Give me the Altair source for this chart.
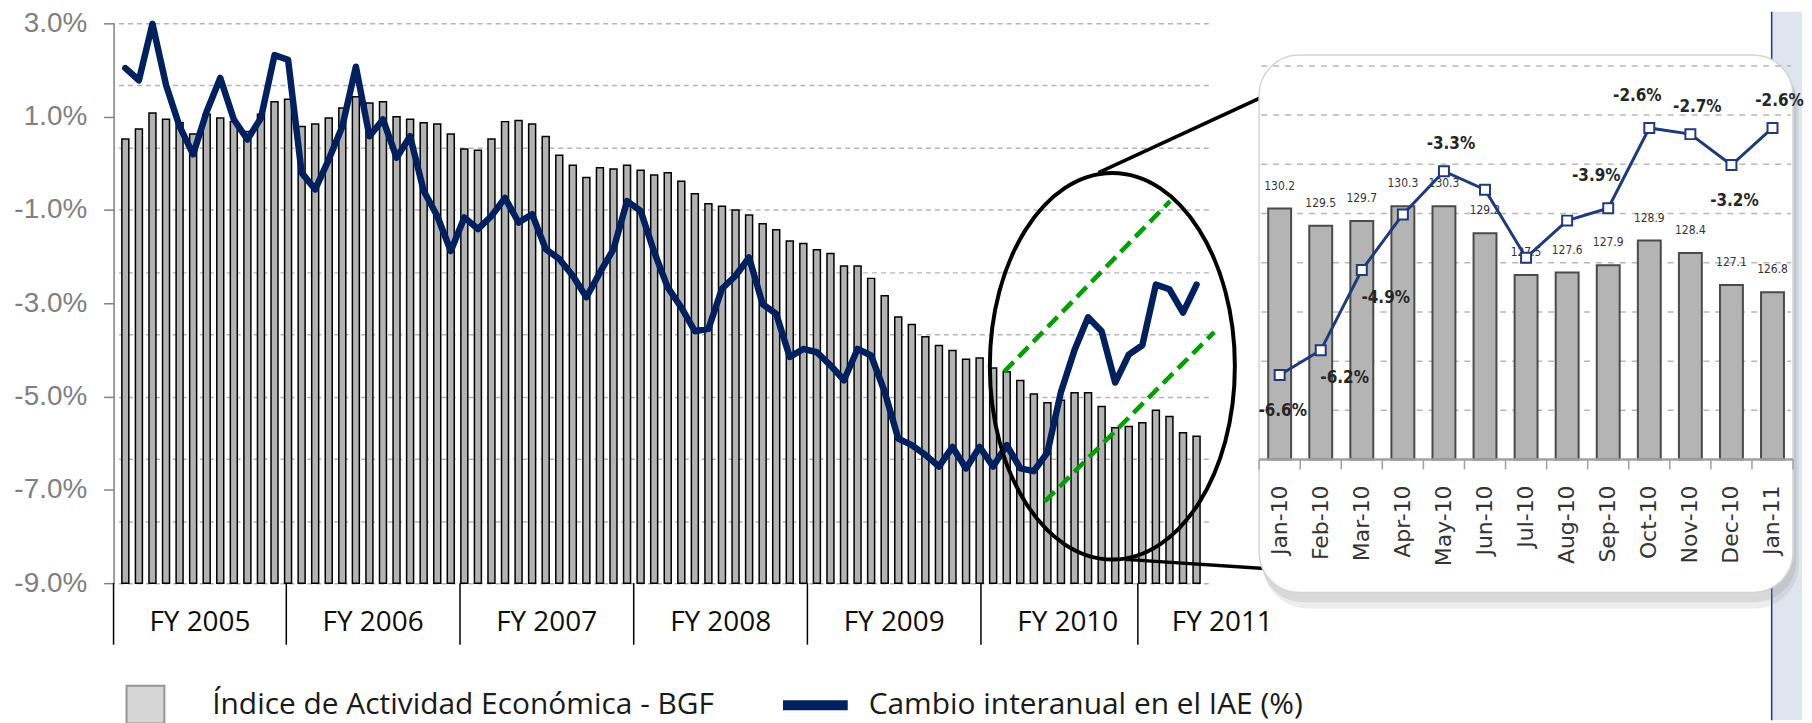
import altair as alt
import pandas as pd

# ------------------------------------------------------------------ data
# Monthly series, Jun-2004 ... Jan-2011 (80 months)
iae_index = [
    150.7, 151.5, 152.8, 152.3, 152.0, 151.1, 152.7, 152.4, 152.1, 151.3,
    152.7, 153.7, 153.9, 151.7, 151.9, 152.4, 153.2, 154.1, 153.6, 153.7,
    152.5, 152.3, 152.0, 151.9, 151.1, 149.9, 149.8, 150.7, 152.1, 152.2,
    151.9, 150.9, 149.4, 148.6, 147.6, 148.4, 148.3, 148.6, 148.2, 147.8,
    148.0, 147.3, 146.3, 145.5, 145.3, 145.0, 144.6, 143.9, 143.4, 142.5,
    142.3, 141.8, 141.5, 140.5, 140.5, 139.5, 138.1, 136.4, 135.8, 134.8,
    134.1, 133.7, 133.0, 133.1, 132.3, 132.0, 131.3, 130.2, 129.5, 129.7,
    130.3, 130.3, 129.2, 127.5, 127.6, 127.9, 128.9, 128.4, 127.1, 126.8,
]
iae_yoy = [
    2.04, 1.78, 2.99, 1.68, 0.79, 0.19, 1.11, 1.83, 0.94, 0.51,
    0.97, 2.32, 2.22, -0.20, -0.56, 0.08, 0.79, 2.07, 0.58, 0.94,
    0.12, 0.58, -0.59, -1.13, -1.88, -1.16, -1.41, -1.13, -0.74, -1.27,
    -1.09, -1.84, -2.05, -2.41, -2.87, -2.34, -1.84, -0.81, -1.02, -1.90,
    -2.66, -3.09, -3.60, -3.55, -2.69, -2.41, -2.02, -3.02, -3.23, -4.15,
    -3.98, -4.05, -4.33, -4.65, -3.98, -4.12, -4.90, -5.90, -6.04, -6.25,
    -6.50, -6.08, -6.54, -6.08, -6.50, -6.04, -6.54, -6.6, -6.2, -4.9,
    -4.0, -3.3, -3.6, -4.7, -4.1, -3.9, -2.6, -2.7, -3.2, -2.6,
]
months = list(range(len(iae_index)))

y_ticks = [-9, -7, -5, -3, -1, 1, 3]
index_grid = [115, 120, 125, 130, 135, 140, 145, 150, 155, 160]

fy_names = ["FY 2005", "FY 2006", "FY 2007", "FY 2008", "FY 2009", "FY 2010", "FY 2011"]
fy_edges = [-0.87, 11.87, 24.68, 37.49, 50.30, 63.1, 74.67]
fy_centers = [5.5, 18.27, 31.07, 43.9, 56.7, 69.5, 80.9]

# annotations (in data units: month index, % change)
ellipse_center = [72.79, -4.35]
green_seg = ["a", "a", "b", "b"]
green_m = [64.8, 77.05, 67.8, 80.3]
green_v = [-4.47, -0.81, -7.25, -3.62]
conn_seg = ["u", "u", "l", "l"]
conn_m = [71.77, 84.8, 73.73, 84.65]
conn_v = [-0.20, 1.55, -8.49, -8.70]

# inset (Jan-10 .. Jan-11)
inset_months = ["Jan-10", "Feb-10", "Mar-10", "Apr-10", "May-10", "Jun-10", "Jul-10",
                "Aug-10", "Sep-10", "Oct-10", "Nov-10", "Dec-10", "Jan-11"]
inset_index = [130.2, 129.5, 129.7, 130.3, 130.3, 129.2, 127.5, 127.6, 127.9, 128.9, 128.4, 127.1, 126.8]
inset_yoy = [-6.6, -6.2, -4.9, -4.0, -3.3, -3.6, -4.7, -4.1, -3.9, -2.6, -2.7, -3.2, -2.6]
pct_above_left = ["Sep-10", "Oct-10"]
pct_above_right = ["May-10", "Nov-10", "Jan-11"]
pct_right = ["Feb-10", "Mar-10"]
pct_below = ["Jan-10", "Dec-10"]
inset_grid = [122, 124, 126, 128, 130, 132, 134, 136]

S_BAR = "Índice de Actividad Económica - BGF"
S_LINE = "Cambio interanual en el IAE (%)"

# ------------------------------------------------------------------ main chart
main_df = pd.DataFrame({"m": months, "iae": iae_index, "yoy": iae_yoy})
main_df["sb"] = S_BAR
main_df["sl"] = S_LINE

XS = alt.Scale(domain=[-0.5, 79.5], nice=False, zero=False)
YP = alt.Scale(domain=[-9, 3], nice=False, zero=False)
YI = alt.Scale(domain=[115, 160], nice=False, zero=False)

AXP = alt.Axis(
    orient="left", values=y_ticks,
    labelExpr="(datum.value < 0 ? '-' : '') + format(abs(datum.value), '.1f') + '%'", grid=False,
    domainColor="#808080", domainWidth=1.5, tickColor="#808080", tickWidth=1.5, tickSize=10,
    labelPadding=17, labelFont="Liberation Sans", labelFontSize=28, labelColor="#808080",
    title=None)

bars = alt.Chart(main_df).mark_bar(size=7, stroke="#000000", strokeWidth=1.5, orient="vertical").encode(
    x=alt.X("m:Q", scale=XS, axis=None),
    y=alt.Y("iae:Q", scale=YI, axis=alt.Axis(
        orient="right", values=index_grid, grid=True, gridDash=[5, 4], gridColor="#b5b5b5",
        gridWidth=1.5, labels=False, ticks=False, domain=False, title=None, minExtent=0, maxExtent=0)),
    y2=alt.datum(115),
    fill=alt.Fill("sb:N", scale=alt.Scale(domain=[S_BAR], range=["#b3b3b3"]), legend=alt.Legend(
        title=None, orient="none", legendX=12, legendY=664, symbolType="square", symbolSize=1444,
        symbolOpacity=0.55, symbolStrokeColor="#404040", symbolStrokeWidth=2,
        labelFont="Open Sans", labelFontSize=30, labelColor="#1a1a1a", labelOffset=47, labelLimit=1200)),
)

line = alt.Chart(main_df).mark_line(strokeWidth=6.5, strokeJoin="round", strokeCap="round").encode(
    x=alt.X("m:Q", scale=XS, axis=None),
    y=alt.Y("yoy:Q", scale=YP, axis=AXP),
    stroke=alt.Stroke("sl:N", scale=alt.Scale(domain=[S_LINE], range=["#002060"]), legend=alt.Legend(
        title=None, orient="none", legendX=667, legendY=647, symbolType="stroke", symbolSize=4225,
        symbolStrokeWidth=10, labelFont="Open Sans", labelFontSize=30, labelColor="#1a1a1a",
        labelOffset=16, labelLimit=1200)),
)

fy_edge_df = pd.DataFrame({"e": fy_edges})
fy_rules = alt.Chart(fy_edge_df).mark_rule(stroke="#000000", strokeWidth=1.5).encode(
    x=alt.X("e:Q", scale=XS, axis=None),
    y=alt.YDatum(-9, scale=YP, axis=AXP),
    y2=alt.datum(-10.32),
)
fy_lab_df = pd.DataFrame({"c": fy_centers, "name": fy_names})
fy_text = alt.Chart(fy_lab_df).mark_text(font="Open Sans", fontSize=28, color="#0d0d0d", baseline="middle").encode(
    x=alt.X("c:Q", scale=XS, axis=None),
    y=alt.YDatum(-9.85, scale=YP, axis=AXP),
    text="name:N",
)

ELL_PATH = ("M-0.634,0C-0.634,-0.552,-0.350,-1,0,-1C0.350,-1,0.634,-0.552,0.634,0"
            "C0.634,0.552,0.350,1,0,1C-0.350,1,-0.634,0.552,-0.634,0Z")
ell_df = pd.DataFrame({"m": [ellipse_center[0]], "v": [ellipse_center[1]]})
ellipse = alt.Chart(ell_df).mark_point(shape=ELL_PATH, size=150544, filled=False, stroke="#000000",
                                       strokeWidth=4, opacity=1).encode(
    x=alt.X("m:Q", scale=XS, axis=None),
    y=alt.Y("v:Q", scale=YP, axis=AXP),
)

green_df = pd.DataFrame({"seg": green_seg, "m": green_m, "v": green_v})
greens = alt.Chart(green_df).mark_line(stroke="#00a000", strokeWidth=4.5, strokeDash=[14, 7]).encode(
    x=alt.X("m:Q", scale=XS, axis=None),
    y=alt.Y("v:Q", scale=YP, axis=AXP),
    detail="seg:N",
)

conn_df = pd.DataFrame({"seg": conn_seg, "m": conn_m, "v": conn_v})
connectors = alt.Chart(conn_df).mark_line(stroke="#000000", strokeWidth=3.5).encode(
    x=alt.X("m:Q", scale=XS, axis=None),
    y=alt.Y("v:Q", scale=YP, axis=AXP),
    detail="seg:N",
)

main = alt.layer(
    bars,
    alt.layer(line, fy_rules, fy_text, ellipse, greens, connectors),
).resolve_scale(y="independent").properties(width=1099, height=562)

# ------------------------------------------------------------------ inset chart
in_df = pd.DataFrame({"k": list(range(len(inset_months))), "mon": inset_months,
                      "iv": inset_index, "iy": inset_yoy})


def grp_of(m):
    if m in pct_above_left:
        return "aboveL"
    if m in pct_above_right:
        return "aboveR"
    if m in pct_right:
        return "right"
    if m in pct_below:
        return "below"
    return "none"


in_df["grp"] = [grp_of(m) for m in inset_months]

IX = alt.Scale(domain=[-0.5, 12.5], nice=False, zero=False)
IYB = alt.Scale(domain=[114.45, 137.73], nice=False, zero=False)
IYL = alt.Scale(domain=[-10.18, -0.906], nice=False, zero=False)
NAVY2 = "#1f3a7a"

base_one = pd.DataFrame({"o": [0]})


def panel_rect(x1, x2, y1, y2, **kw):
    return alt.Chart(base_one).mark_rect(**kw).encode(
        x=alt.XDatum(x1, scale=IX, axis=None), x2=alt.datum(x2),
        y=alt.YDatum(y1, scale=IYB, axis=None), y2=alt.datum(y2),
    )


# slide side strip behind the inset
strip = panel_rect(11.98, 12.72, 138.2, 109.4, fill="#dfe5ee")
strip_edge = alt.Chart(base_one).mark_rule(stroke="#1f3a7a", strokeWidth=1.5).encode(
    x=alt.XDatum(11.98, scale=IX, axis=None),
    y=alt.YDatum(138.2, scale=IYB, axis=None), y2=alt.datum(109.4),
)
shadow1 = panel_rect(-0.40, 12.64, 136.1, 113.95, fill="#808080", opacity=0.14, cornerRadius=44)
shadow2 = panel_rect(-0.45, 12.58, 136.25, 114.2, fill="#808080", opacity=0.18, cornerRadius=42)
panel = panel_rect(-0.5, 12.5, 136.44, 114.6, fill="#ffffff", stroke="#d4d4d4", strokeWidth=1.5, cornerRadius=40)

grid_df = pd.DataFrame({"g": inset_grid})
in_grid = alt.Chart(grid_df).mark_rule(stroke="#b8b8b8", strokeWidth=1.5, strokeDash=[6, 6]).encode(
    x=alt.XDatum(-0.45, scale=IX, axis=None), x2=alt.datum(12.45),
    y=alt.Y("g:Q", scale=IYB, axis=None),
)

in_bars = alt.Chart(in_df).mark_bar(size=23, fill="#b4b4b4", stroke="#4a4a4a", strokeWidth=2,
                                    orient="vertical").encode(
    x=alt.X("k:Q", scale=IX, axis=None),
    y=alt.Y("iv:Q", scale=IYB, axis=None),
    y2=alt.datum(120),
)
in_base = alt.Chart(base_one).mark_rule(stroke="#a0a0a0", strokeWidth=2.5).encode(
    x=alt.XDatum(-0.5, scale=IX, axis=None), x2=alt.datum(12.5),
    y=alt.YDatum(120, scale=IYB, axis=None),
)
tick_df = pd.DataFrame({"t": [k - 0.5 for k in range(len(inset_months) + 1)]})
in_ticks = alt.Chart(tick_df).mark_rule(stroke="#a0a0a0", strokeWidth=1.5).encode(
    x=alt.X("t:Q", scale=IX, axis=None),
    y=alt.YDatum(120, scale=IYB, axis=None), y2=alt.datum(119.6),
)
in_barlab = alt.Chart(in_df).mark_text(font="DejaVu Sans Condensed", fontSize=12, color="#333333",
                                       dy=-23, baseline="middle").encode(
    x=alt.X("k:Q", scale=IX, axis=None),
    y=alt.Y("iv:Q", scale=IYB, axis=None),
    text=alt.Text("iv:Q", format=".1f"),
)
in_months = alt.Chart(in_df).mark_text(font="DejaVu Sans", fontSize=22, color="#333333", angle=270,
                                       align="right", baseline="middle", dx=-26).encode(
    x=alt.X("k:Q", scale=IX, axis=None),
    y=alt.YDatum(120, scale=IYB, axis=None),
    text="mon:N",
)

in_line = alt.Chart(in_df).mark_line(stroke=NAVY2, strokeWidth=3).encode(
    x=alt.X("k:Q", scale=IX, axis=None),
    y=alt.Y("iy:Q", scale=IYL, axis=None),
)
in_pts = alt.Chart(in_df).mark_point(shape="square", filled=True, fill="#ffffff", stroke=NAVY2,
                                     strokeWidth=2, size=100, opacity=1).encode(
    x=alt.X("k:Q", scale=IX, axis=None),
    y=alt.Y("iy:Q", scale=IYL, axis=None),
)


def pct_layer(group, dx, dy):
    return alt.Chart(in_df).transform_filter(alt.datum.grp == group).transform_calculate(
        lab="(datum.iy < 0 ? '-' : '') + format(abs(datum.iy), '.1f') + '%'"
    ).mark_text(font="DejaVu Sans Condensed", fontSize=17, fontWeight="bold", color="#262626",
                dx=dx, dy=dy, baseline="middle").encode(
        x=alt.X("k:Q", scale=IX, axis=None),
        y=alt.Y("iy:Q", scale=IYL, axis=None),
        text="lab:N",
    )


inset = alt.layer(
    alt.layer(strip, strip_edge, shadow1, shadow2, panel, in_grid, in_bars, in_base, in_ticks,
              in_barlab, in_months),
    alt.layer(in_line, in_pts, pct_layer("aboveL", -12, -32), pct_layer("aboveR", 7, -27),
              pct_layer("right", 24, 28), pct_layer("below", 3, 36)),
).resolve_scale(y="independent").properties(width=546, height=575)

chart = alt.hconcat(main, inset, spacing=46, bounds="flush").properties(
    padding={"left": 5, "top": 0, "right": 0, "bottom": 0}
).configure_view(strokeWidth=0)

chart.save("out.html", embed_options={"renderer": "svg", "actions": False})
